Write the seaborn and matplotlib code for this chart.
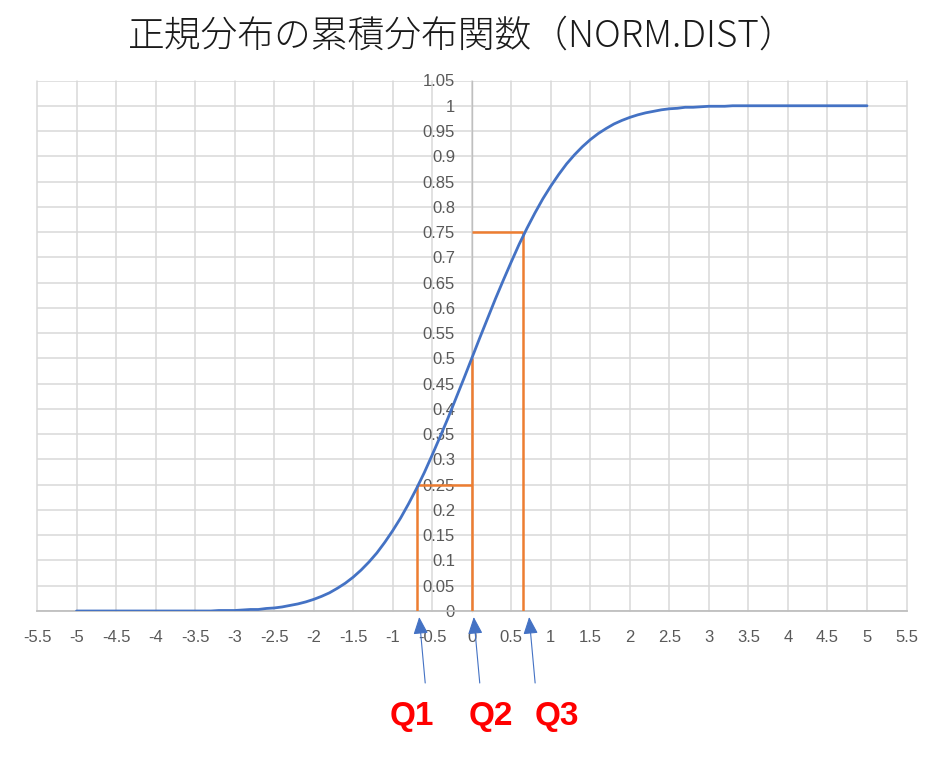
import matplotlib
matplotlib.use('Agg')
import matplotlib.pyplot as plt
import matplotlib.transforms as mtransforms
import seaborn as sns
import numpy as np
import pandas as pd

# curve values (step 0.1)
x_vals = [round(-5 + 0.1 * i, 1) for i in range(101)]
cdf_vals = [
    # -5.0 .. -3.1
    0.000, 0.000, 0.000, 0.000, 0.000, 0.000, 0.000, 0.000, 0.000, 0.000,
    0.000, 0.000, 0.000, 0.000, 0.000, 0.000, 0.000, 0.000, 0.001, 0.001,
    # -3.0 .. -2.1
    0.001, 0.002, 0.003, 0.003, 0.005, 0.006, 0.008, 0.011, 0.014, 0.018,
    # -2.0 .. -1.1
    0.023, 0.029, 0.036, 0.045, 0.055, 0.067, 0.081, 0.097, 0.115, 0.136,
    # -1.0 .. -0.1
    0.159, 0.184, 0.212, 0.242, 0.274, 0.309, 0.345, 0.382, 0.421, 0.460,
    # 0.0 .. 0.9
    0.500, 0.540, 0.579, 0.618, 0.655, 0.691, 0.726, 0.758, 0.788, 0.816,
    # 1.0 .. 1.9
    0.841, 0.864, 0.885, 0.903, 0.919, 0.933, 0.945, 0.955, 0.964, 0.971,
    # 2.0 .. 2.9
    0.977, 0.982, 0.986, 0.989, 0.992, 0.994, 0.995, 0.997, 0.997, 0.998,
    # 3.0 .. 3.9
    0.999, 0.999, 0.999, 1.000, 1.000, 1.000, 1.000, 1.000, 1.000, 1.000,
    # 4.0 .. 5.0
    1.000, 1.000, 1.000, 1.000, 1.000, 1.000, 1.000, 1.000, 1.000, 1.000,
    1.000,
]

# quartiles
q_names = ['Q1', 'Q2', 'Q3']
q_x = [-0.69, 0.0, 0.65]
q_p = [0.25, 0.5, 0.75]

x_ticks = [-5.5, -5, -4.5, -4, -3.5, -3, -2.5, -2, -1.5, -1, -0.5, 0,
           0.5, 1, 1.5, 2, 2.5, 3, 3.5, 4, 4.5, 5, 5.5]
y_ticks = [0, 0.05, 0.1, 0.15, 0.2, 0.25, 0.3, 0.35, 0.4, 0.45, 0.5, 0.55,
           0.6, 0.65, 0.7, 0.75, 0.8, 0.85, 0.9, 0.95, 1, 1.05]

title = '正規分布の累積分布関数（NORM.DIST）'

sns.set_theme(style='white')
plt.rcParams['font.family'] = ['Liberation Sans', 'DejaVu Sans']

BLUE = '#4472C4'
ORANGE = '#ED7D31'
GRID = '#D9D9D9'
AXIS = '#BFBFBF'
LABEL = '#595959'

W, H = 942, 759
fig = plt.figure(figsize=(W / 100, H / 100), dpi=100)
ax = fig.add_axes([37 / W, 1 - 611 / H, (906.5 - 37) / W, (611 - 80.5) / H])

df = pd.DataFrame({'x': x_vals, 'p': cdf_vals})
sns.lineplot(data=df, x='x', y='p', ax=ax, color=BLUE, linewidth=2.0, zorder=5)

ax.set_xlim(-5.5, 5.5)
ax.set_ylim(0, 1.05)
ax.set_xticks(x_ticks)
ax.set_yticks(y_ticks)
ax.set_xticklabels(['{:g}'.format(v) for v in x_ticks])
ax.set_yticklabels(['{:g}'.format(v) for v in y_ticks])
ax.set_xlabel('')
ax.set_ylabel('')

ax.grid(True, color=GRID, linewidth=1.1)
for gl in ax.xaxis.get_gridlines() + ax.yaxis.get_gridlines():
    gl.set_clip_on(False)
ax.set_axisbelow(True)

ax.spines['left'].set_position(('data', 0))
ax.spines['left'].set_color(AXIS)
ax.spines['left'].set_linewidth(1.0)
ax.spines['bottom'].set_color(AXIS)
ax.spines['bottom'].set_linewidth(1.3)
ax.spines['top'].set_visible(False)
ax.spines['right'].set_visible(False)

ax.tick_params(axis='y', length=0, pad=12, labelsize=12, labelcolor=LABEL)
ax.tick_params(axis='x', length=0, pad=14, labelsize=12, labelcolor=LABEL)
for lab in ax.get_yticklabels():
    lab.set_zorder(3)

# quartile guide lines
ax.vlines(q_x, 0, q_p, color=ORANGE, linewidth=1.8, zorder=4)
for qx, qp in zip(q_x, q_p):
    if qx != 0:
        ax.hlines(qp, min(qx, 0), max(qx, 0), color=ORANGE, linewidth=1.8, zorder=4)

# arrows and labels below the axis
head_off = [(2, -6), (2, -6), (6, -6)]
tail_off = [(8, -72), (8, -72), (12, -72)]
text_off = [(-5, -105), (19, -105), (34, -105)]
for name, qx, ho, to, tx in zip(q_names, q_x, head_off, tail_off, text_off):
    head_tr = mtransforms.offset_copy(ax.transData, fig, x=ho[0], y=ho[1], units='dots')
    tail_tr = mtransforms.offset_copy(ax.transData, fig, x=to[0], y=to[1], units='dots')
    ax.annotate('', xy=(qx, 0), xycoords=head_tr, xytext=(qx, 0), textcoords=tail_tr,
                arrowprops=dict(arrowstyle='-|>,head_length=0.7,head_width=0.3',
                                color=BLUE, lw=0.8, mutation_scale=15,
                                shrinkA=0, shrinkB=0),
                annotation_clip=False)
    text_tr = mtransforms.offset_copy(ax.transData, fig, x=tx[0], y=tx[1], units='dots')
    ax.text(qx, 0, name, transform=text_tr, color='#FF0000', fontsize=24,
            fontweight='bold', ha='center', va='center',
            family=['Liberation Sans', 'DejaVu Sans'], clip_on=False)

fig.text(462 / W, 1 - 36 / H, title, ha='center', va='center', fontsize=26.5,
         fontweight='light', color='#1a1a1a',
         family=['Noto Sans CJK JP', 'DejaVu Sans'])

fig.savefig('out.png', dpi=100)
